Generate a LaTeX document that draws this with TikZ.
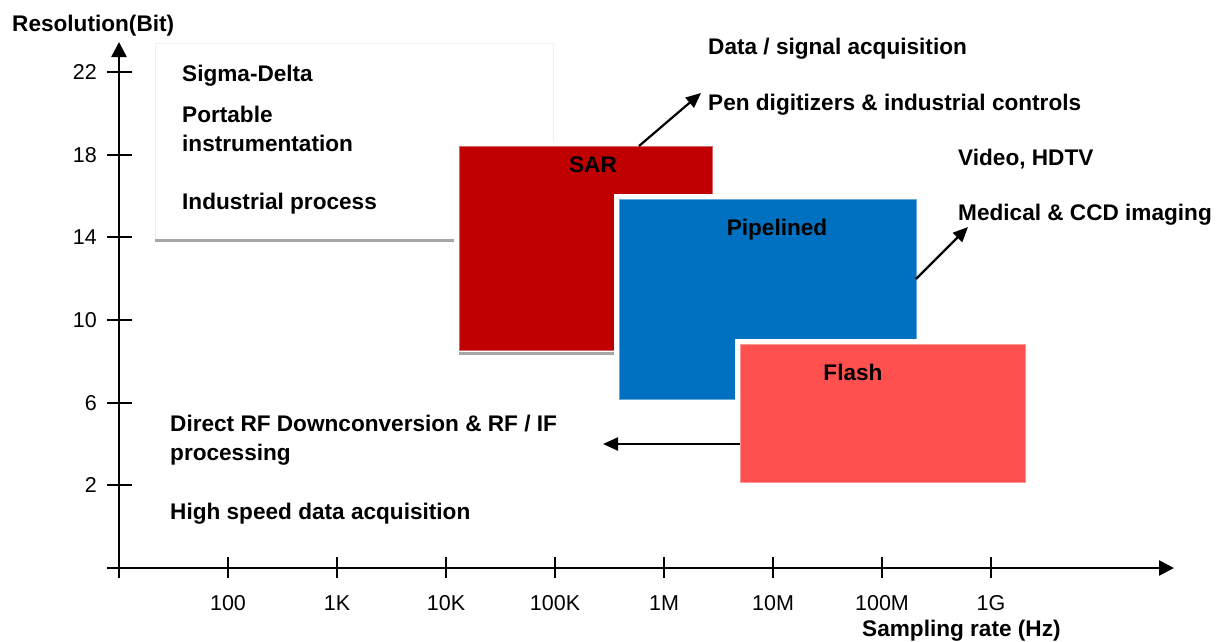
\documentclass[tikz,border=0pt]{standalone}
\usepackage{fontspec}
\setmainfont{Liberation Sans}
\usetikzlibrary{arrows.meta}
\definecolor{sarred}{HTML}{C00000}
\definecolor{pipeblue}{HTML}{0070C0}
\definecolor{flashred}{HTML}{FF5050}
\definecolor{shadowgray}{HTML}{A6A6A6}
\definecolor{paneledge}{HTML}{F0F0F0}
\begin{document}
\begin{tikzpicture}[x=1pt,y=-1pt,
  lbl/.style={font=\fontsize{22.6}{26}\selectfont\bfseries, inner sep=0, anchor=base west},
  boxlbl/.style={font=\fontsize{22.6}{26}\selectfont\bfseries, inner sep=0, anchor=base},
  ylbl/.style={font=\fontsize{21.5}{25}\selectfont, inner sep=0, anchor=east},
  xlbl/.style={font=\fontsize{21.5}{25}\selectfont, inner sep=0, anchor=base},
  axisline/.style={line width=2.4pt, -{Triangle[length=15pt,width=15pt]}},
  tickline/.style={line width=1.8pt},
  conn/.style={line width=2.2pt, -{Triangle[length=15pt,width=13pt]}},
  shadowline/.style={shadowgray, line width=3pt},
  rangebox/.style={fill=#1, draw=#1!60!white, line width=0.8pt,
    inner sep=0, outer sep=0, anchor=north west,
    preaction={draw=white, line width=11pt}},
]
\useasboundingbox (0,0) rectangle (1217,641);

% axes
\coordinate (origin) at (119,568);
\coordinate (ybottom) at (119,578);
\coordinate (ytop) at (119,42);
\coordinate (xstart) at (107,568);
\coordinate (xend) at (1174,568);
\draw[axisline] (ybottom) -- (ytop);
\draw[axisline] (xstart) -- (xend);

% resolution ticks
\foreach \v/\yy in {22/72,18/155,14/237,10/320,6/403,2/485}{
  \draw[tickline] (107,\yy) -- (132,\yy);
  \node[ylbl] (ytick\v) at (97,\yy) {\v};
}
% sampling-rate ticks
\foreach \xx in {228,337,446,555,664,773,882,991}{
  \draw[tickline] (\xx,557) -- (\xx,578);
}
\node[xlbl] (f100)  at (228,610) {100};
\node[xlbl] (f1k)   at (337,610) {1K};
\node[xlbl] (f10k)  at (446,610) {10K};
\node[xlbl] (f100k) at (555,610) {100K};
\node[xlbl] (f1m)   at (664,610) {1M};
\node[xlbl] (f10m)  at (773,610) {10M};
\node[xlbl] (f100m) at (882,610) {100M};
\node[xlbl] (f1g)   at (991,610) {1G};

\node[lbl] (ytitle) at (12,31) {Resolution(Bit)};
\node[lbl] (xtitle) at (862,636) {Sampling rate (Hz)};

% sigma-delta panel
\node[fill=white, draw=paneledge, line width=0.8pt, inner sep=0, outer sep=0,
      anchor=north west, minimum width=398, minimum height=197] (sd) at (155,43) {};
\draw[shadowline] (sd.south west) -- (sd.south east);
\node[lbl] (sdname) at (182,81) {Sigma-Delta};
\node[lbl] (sdapp1) at (182,122) {Portable};
\node[lbl] (sdapp2) at (182,151) {instrumentation};
\node[lbl] (sdapp3) at (182,209) {Industrial process};

% SAR
\node[rangebox=sarred, minimum width=253, minimum height=204] (sar) at (459,146) {};
\draw[shadowline] ([yshift=-3pt]sar.south west) -- ([yshift=-3pt]sar.south east);
\node[boxlbl] (sarname) at (593,172) {SAR};

% pipelined
\node[rangebox=pipeblue, minimum width=297, minimum height=200] (pipe) at (619,199) {};
\node[boxlbl] (pipename) at (777,235) {Pipelined};

% flash
\node[rangebox=flashred, minimum width=285, minimum height=138] (flash) at (740,344) {};
\node[boxlbl] (flashname) at (853,380) {Flash};

% applications
\node[lbl] (sarapp1) at (708,54) {Data / signal acquisition};
\node[lbl] (sarapp2) at (708,110) {Pen digitizers \& industrial controls};
\node[lbl] (pipeapp1) at (958,165) {Video, HDTV};
\node[lbl] (pipeapp2) at (958,220) {Medical \& CCD imaging};
\node[lbl] (flashapp1) at (170,431) {Direct RF Downconversion \& RF / IF};
\node[lbl] (flashapp2) at (170,460) {processing};
\node[lbl] (flashapp3) at (170,519) {High speed data acquisition};

% pointers to the application lists
\coordinate (sartip) at (701,93);
\coordinate (pipetip) at (968,227);
\coordinate (flashtip) at (603,444);
\draw[conn] ([xshift=180pt]sar.north west) -- (sartip);
\draw[conn] ([yshift=-80pt]pipe.north east) -- (pipetip);
\draw[conn] (flash.west |- flashtip) -- (flashtip);
\end{tikzpicture}
\end{document}
